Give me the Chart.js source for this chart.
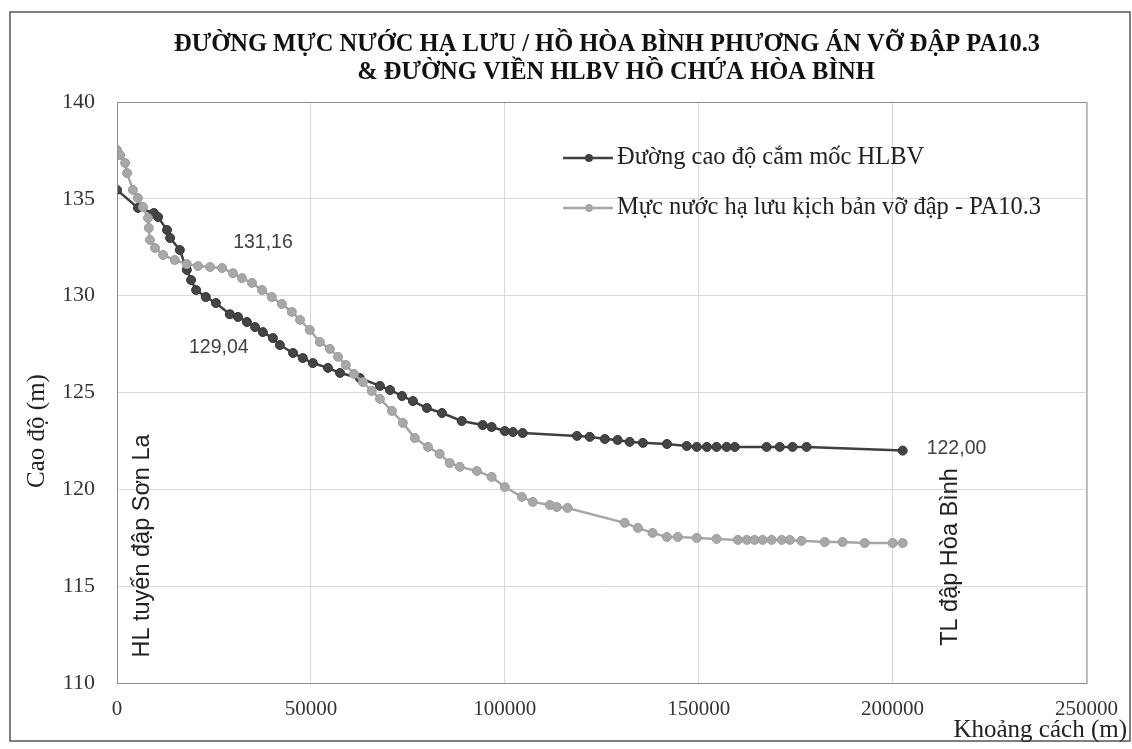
<!DOCTYPE html>
<html>
<head>
<meta charset="utf-8">
<script src="https://cdn.jsdelivr.net/npm/chart.js@4.4.1/dist/chart.umd.min.js"></script>
<style>
  html, body { margin: 0; padding: 0; background: #fff; }
  #wrap { width: 1132px; height: 749px; }
</style>
</head>
<body>
<div id="wrap"><canvas id="chart" width="1132" height="749"></canvas></div>
<script>
// Đường cao độ cắm mốc HLBV
const hlbvX = [0, 5400, 9500, 10600, 12900, 13700, 16200, 18000, 19100, 20400, 22900, 25500, 29100, 31200, 33500,
  35600, 37600, 40200, 42000, 45400, 47900, 50500, 54400, 57500, 62600, 67800, 70400, 73500, 76300, 79900,
  83800, 88900, 94300, 96600, 100000, 102100, 104600, 118600, 121900, 125800, 129100, 132200, 135600, 141800,
  146900, 149500, 152100, 154600, 157200, 159300, 167500, 170900, 174200, 177800, 202600];
const hlbvY = [135.46, 134.53, 134.27, 134.06, 133.39, 132.98, 132.36, 131.33, 130.81, 130.29, 129.93, 129.62, 129.04, 128.90, 128.64,
  128.38, 128.12, 127.81, 127.45, 127.04, 126.78, 126.52, 126.27, 126.01, 125.75, 125.34, 125.13, 124.82, 124.56, 124.20,
  123.94, 123.53, 123.32, 123.22, 123.01, 122.96, 122.91, 122.76, 122.71, 122.60, 122.55, 122.45, 122.40, 122.34,
  122.24, 122.19, 122.19, 122.19, 122.19, 122.19, 122.19, 122.19, 122.19, 122.19, 122.00];

// Mực nước hạ lưu kịch bản vỡ đập - PA10.3
const waterX = [0, 800, 2100, 2600, 4100, 5400, 6700, 8000, 8200, 8500, 9800, 11900, 14900, 18000, 20900, 24000,
  27100, 29900, 32200, 34800, 37400, 39900, 42500, 45100, 47200, 49700, 52300, 54900, 57000, 59000, 61100,
  63400, 65700, 67800, 70900, 73700, 76800, 80200, 83200, 85800, 88400, 92800, 96600, 100000, 104400, 107200,
  111600, 113400, 116200, 130900, 134300, 138100, 141800, 144600, 149500, 154600, 160100, 162400, 164400,
  166500, 168800, 171400, 173500, 176500, 182500, 187100, 192800, 200000, 202600];
const waterY = [137.52, 137.26, 136.85, 136.33, 135.46, 135.04, 134.58, 134.01, 133.5, 132.88, 132.46, 132.1, 131.84, 131.63, 131.53, 131.48,
  131.43, 131.16, 130.91, 130.66, 130.29, 129.93, 129.57, 129.16, 128.75, 128.23, 127.61, 127.25, 126.84, 126.42, 125.96,
  125.54, 125.08, 124.67, 124.05, 123.43, 122.65, 122.19, 121.83, 121.36, 121.16, 120.95, 120.64, 120.12, 119.61, 119.35,
  119.19, 119.09, 119.04, 118.27, 118.01, 117.75, 117.54, 117.54, 117.49, 117.44, 117.39, 117.39, 117.39,
  117.39, 117.39, 117.39, 117.39, 117.34, 117.28, 117.28, 117.23, 117.23, 117.23];

const seriesNames = ['Đường cao độ cắm mốc HLBV', 'Mực nước hạ lưu kịch bản vỡ đập - PA10.3'];
const titleLines = ['ĐƯỜNG MỰC NƯỚC HẠ LƯU / HỒ HÒA BÌNH PHƯƠNG ÁN VỠ ĐẬP PA10.3', '& ĐƯỜNG VIỀN HLBV HỒ CHỨA HÒA BÌNH'];
const yTicks = [110, 115, 120, 125, 130, 135, 140];
const xTicks = [0, 50000, 100000, 150000, 200000, 250000];
const sideNotes = ['HL tuyến đập Sơn La', 'TL đập Hòa Bình'];
// [dataset, point index] for value labels
const valueLabels = [[1, 17], [0, 12], [0, 54]];

const DARK = '#404040';
const LIGHT = '#a6a6a6';
const SERIF = '"Liberation Serif", "Times New Roman", serif';
const SANS = '"Liberation Sans", Arial, sans-serif';

const toPoints = (xs, ys) => xs.map((x, i) => ({ x: x, y: ys[i] }));

const decor = {
  id: 'decor',
  beforeDraw(chart) {
    const ctx = chart.ctx;
    ctx.save();
    ctx.fillStyle = '#fff';
    ctx.fillRect(0, 0, chart.width, chart.height);
    ctx.restore();
  },
  afterDraw(chart) {
    const ctx = chart.ctx;
    const a = chart.chartArea;
    const xs = chart.scales.x, ys = chart.scales.y;
    ctx.save();

    // outer frame
    ctx.strokeStyle = '#555';
    ctx.lineWidth = 1.5;
    ctx.strokeRect(10, 12, 1120, 729);

    // plot border
    ctx.strokeStyle = '#8c8c8c';
    ctx.lineWidth = 1;
    ctx.strokeRect(a.left + 0.5, a.top + 0.5, a.right - a.left, a.bottom - a.top);

    // title
    ctx.fillStyle = '#111';
    ctx.font = 'bold 24.5px ' + SERIF;
    ctx.textAlign = 'center';
    ctx.textBaseline = 'middle';
    ctx.fillText(titleLines[0], 607, 45);
    ctx.fillText(titleLines[1], 616, 73);

    // legend
    const legendY = [158, 208];
    const cols = [DARK, LIGHT];
    for (let i = 0; i < 2; i++) {
      ctx.strokeStyle = cols[i];
      ctx.lineWidth = 2.5;
      ctx.beginPath();
      ctx.moveTo(563, legendY[i]);
      ctx.lineTo(613, legendY[i]);
      ctx.stroke();
      ctx.fillStyle = cols[i];
      ctx.beginPath();
      ctx.arc(589, legendY[i], 4, 0, Math.PI * 2);
      ctx.fill();
      ctx.fillStyle = '#222';
      ctx.font = '24.5px ' + SERIF;
      ctx.textAlign = 'left';
      ctx.fillText(seriesNames[i], 617, legendY[i]);
    }

    // value labels
    const offs = [[30, -31, 'center'], [-11, 33, 'center'], [24, -2, 'left']];
    ctx.font = '19.5px ' + SANS;
    ctx.fillStyle = '#404040';
    valueLabels.forEach((v, k) => {
      const ds = chart.data.datasets[v[0]].data[v[1]];
      const px = xs.getPixelForValue(ds.x), py = ys.getPixelForValue(ds.y);
      ctx.textAlign = offs[k][2];
      ctx.fillText(ds.y.toFixed(2).replace('.', ','), px + offs[k][0], py + offs[k][1]);
    });

    // side notes (rotated)
    ctx.font = '23.5px ' + SANS;
    ctx.fillStyle = '#222';
    ctx.textAlign = 'center';
    [[143, 546], [951, 557]].forEach((p, i) => {
      ctx.save();
      ctx.translate(p[0], p[1]);
      ctx.rotate(-Math.PI / 2);
      ctx.fillText(sideNotes[i], 0, 0);
      ctx.restore();
    });

    // axis titles
    ctx.font = '25px ' + SERIF;
    ctx.fillStyle = '#222';
    ctx.save();
    ctx.translate(37, 431);
    ctx.rotate(-Math.PI / 2);
    ctx.textAlign = 'center';
    ctx.fillText('Cao độ (m)', 0, 0);
    ctx.restore();
    ctx.textAlign = 'right';
    ctx.fillText('Khoảng cách (m)', 1127, 730);

    ctx.restore();
  }
};

const chart = new Chart(document.getElementById('chart'), {
  type: 'scatter',
  data: {
    datasets: [
      {
        label: seriesNames[0],
        data: toPoints(hlbvX, hlbvY),
        showLine: true,
        borderColor: DARK,
        backgroundColor: '#454545',
        pointBorderColor: '#353535',
        borderWidth: 2.5,
        pointRadius: 4.5,
        pointBorderWidth: 1,
        order: 1
      },
      {
        label: seriesNames[1],
        data: toPoints(waterX, waterY),
        showLine: true,
        borderColor: LIGHT,
        backgroundColor: '#a8a8a8',
        pointBorderColor: '#9c9c9c',
        borderWidth: 2.5,
        pointRadius: 4.5,
        pointBorderWidth: 1,
        order: 0
      }
    ]
  },
  options: {
    responsive: false,
    animation: false,
    layout: { padding: { top: 102, right: 45, left: 0, bottom: 0 } },
    plugins: {
      legend: { display: false },
      tooltip: { enabled: false }
    },
    scales: {
      x: {
        type: 'linear',
        min: 0,
        max: 250000,
        afterFit: s => { s.height = 66; },
        afterBuildTicks: s => { s.ticks = xTicks.map(v => ({ value: v })); },
        grid: { color: '#d9d9d9', drawTicks: false },
        border: { color: '#8c8c8c' },
        ticks: {
          padding: 14,
          color: '#333',
          font: { family: SERIF, size: 21 },
          callback: v => String(v)
        }
      },
      y: {
        min: 110,
        max: 140,
        afterFit: s => { s.width = 117; },
        afterBuildTicks: s => { s.ticks = yTicks.map(v => ({ value: v })); },
        grid: { color: '#d9d9d9', drawTicks: false },
        border: { color: '#8c8c8c' },
        ticks: {
          padding: 22,
          color: '#333',
          font: { family: SERIF, size: 22 },
          callback: v => String(v)
        }
      }
    }
  },
  plugins: [decor]
});
</script>
</body>
</html>
